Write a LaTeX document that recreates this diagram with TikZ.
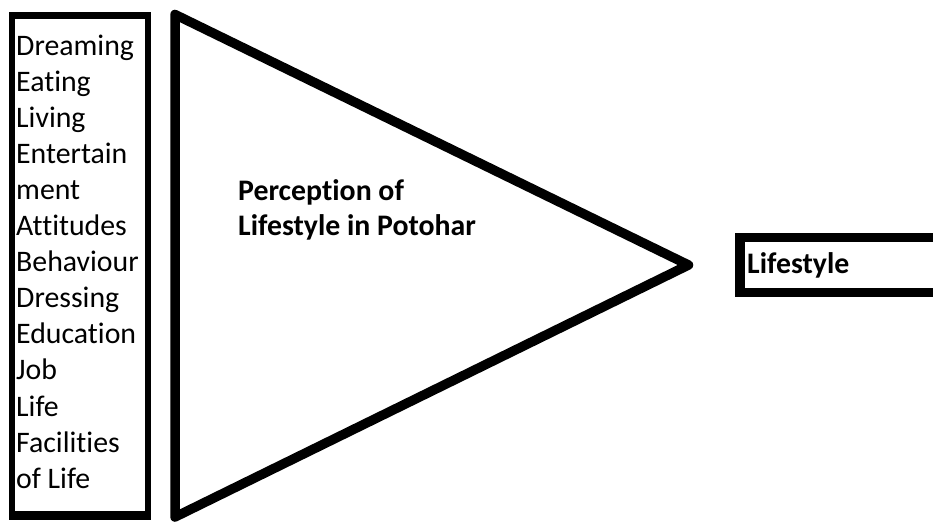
\documentclass[tikz,border=0pt]{standalone}
\usepackage{fontspec}
\setmainfont{Carlito}[Ligatures=NoCommon]
\usetikzlibrary{positioning}

\begin{document}
\begin{tikzpicture}[
    x=1pt, y=-1pt,
    frame/.style={draw=black, line width=6.5pt},
    wedge/.style={draw=black, line width=9.5pt, line join=round},
    word/.style={anchor=base west, inner sep=0pt, font=\fontsize{29.8}{36}\selectfont},
    heading/.style={anchor=base west, inner sep=0pt, align=left,
        font=\fontsize{29.8}{35}\selectfont\bfseries}
]
    \useasboundingbox (0,0) rectangle (933,523);
    \clip (0,0) rectangle (933,523);

    % left box with the list of aspects
    \draw[frame] (12,15.5) rectangle (148,514);
    \draw[black, line width=4pt] (9,518) -- (151,518);
    \foreach \word [count=\i] in {Dreaming, Eating, Living, Entertain, ment,
        Attitudes, Behaviour, Dressing, Education, Job, Life, Facilities, of Life}
        \node[word] (aspect\i) at (16,{55+36.1*(\i-1)}) {\word};

    % big triangle
    \coordinate (top) at (175,14.5);
    \coordinate (bottom) at (175,517);
    \coordinate (tip) at (688.5,265);
    \draw[wedge] (top) -- (tip) -- (bottom) -- cycle;
    \node[heading] (perception) at (238,235) {Perception of\\Lifestyle in Potohar};

    % result box, open at the right edge
    \draw[wedge, line join=miter] (950,237.5) -- (740,237.5) -- (740,292.5) -- (950,292.5);
    \node[word, font=\fontsize{29.8}{36}\selectfont\bfseries] (lifestyle) at (747,273) {Lifestyle};
\end{tikzpicture}
\end{document}
